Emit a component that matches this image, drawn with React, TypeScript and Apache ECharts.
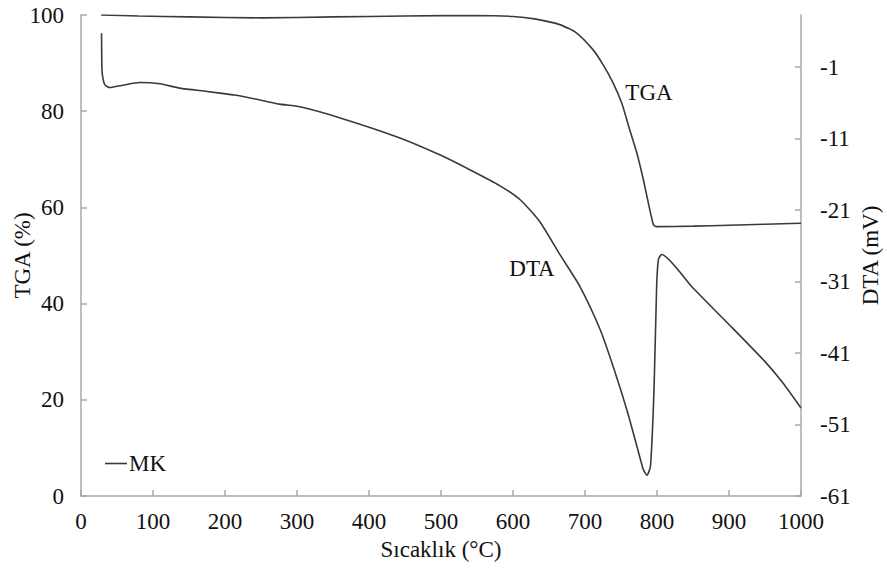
import React, { useEffect, useRef } from "react";
import * as echarts from "echarts";

// Temperature (°C) and TGA (%) readings
const tgaTemp = [28, 80, 150, 250, 350, 450, 550, 600, 630, 665, 688, 711, 725, 739, 751, 762, 772, 781, 788, 795, 799, 850, 900, 950, 1000];
const tgaValues = [100, 99.8, 99.6, 99.4, 99.6, 99.8, 99.9, 99.7, 99.2, 98.0, 96.3, 92.8, 89.7, 85.9, 81.7, 76.2, 71.3, 65.8, 60.9, 56.4, 56.0, 56.1, 56.3, 56.5, 56.7];

// Temperature (°C) and DTA (mV) readings
const dtaTemp = [28.5, 29, 30, 33, 40, 54, 82, 110, 137, 175, 211, 230, 258, 276, 304, 360, 443, 499, 540, 582, 610, 637, 665, 693, 721, 739, 758, 772, 781, 786, 791, 796, 799.5, 802, 806.5, 850, 900, 950, 975, 1000];
const dtaValues = [3.75, -1.0, -2.3, -3.45, -3.85, -3.6, -3.15, -3.33, -3.93, -4.4, -4.87, -5.2, -5.8, -6.17, -6.55, -8.1, -10.9, -13.3, -15.35, -17.6, -19.55, -22.6, -27.2, -31.7, -37.7, -42.85, -48.9, -54.0, -57.3, -58.1, -56.8, -45.6, -31.7, -27.9, -27.2, -31.9, -37.0, -42.2, -45.2, -48.7];

const xTicks = { min: 0, max: 1000, interval: 100 };
const tgaAxis = { min: 0, max: 100, interval: 20 };
const dtaAxis = { min: -61, max: 6.3, interval: 10 };

const FONT = "'Liberation Serif', 'Times New Roman', serif";
const FS = 23;
const AXIS_GRAY = "#a8a8a8";
const LINE = "#3a3a3a";

export default function App() {
  const ref = useRef<HTMLDivElement>(null);
  useEffect(() => {
    if (!ref.current) return;
    const chart = echarts.init(ref.current, undefined, { renderer: "svg" });
    const tgaData = tgaTemp.map((t, i) => [t, tgaValues[i]]);
    const dtaData = dtaTemp.map((t, i) => [t, dtaValues[i]]);
    const axisText = { color: "#111", fontFamily: FONT, fontSize: FS };
    const plain = (v: number) => String(v);
    chart.setOption({
      animation: false,
      backgroundColor: "#fff",
      textStyle: { fontFamily: FONT },
      grid: { left: 81, right: 86, top: 15, bottom: 77, containLabel: false, outerBoundsMode: "none" },
      legend: {
        data: ["MK"],
        left: 100,
        top: 447,
        icon: "rect",
        itemWidth: 22,
        itemHeight: 1.6,
        itemGap: 2,
        textStyle: { ...axisText, padding: [0, 0, 0, -3] },
      },
      xAxis: {
        type: "value",
        ...xTicks,
        name: "Sıcaklık (°C)",
        nameLocation: "middle",
        nameGap: 42,
        nameMoveOverlap: false,
        nameTextStyle: axisText,
        axisLine: { show: true, lineStyle: { color: AXIS_GRAY, width: 1.5 } },
        axisTick: { show: true, inside: true, length: 6, lineStyle: { color: AXIS_GRAY, width: 1.5 } },
        axisLabel: { ...axisText, margin: 14, formatter: plain },
        splitLine: { show: false },
      },
      yAxis: [
        {
          type: "value",
          ...tgaAxis,
          position: "left",
          name: "TGA (%)",
          nameLocation: "middle",
          nameRotate: 90,
          nameGap: 47,
          nameMoveOverlap: false,
          nameTextStyle: axisText,
          axisLine: { show: true, lineStyle: { color: AXIS_GRAY, width: 1.5 } },
          axisTick: { show: true, inside: true, length: 6, lineStyle: { color: AXIS_GRAY, width: 1.5 } },
          axisLabel: { ...axisText, margin: 17, formatter: plain },
          splitLine: { show: false },
        },
        {
          type: "value",
          ...dtaAxis,
          position: "right",
          name: "DTA (mV)",
          nameLocation: "middle",
          nameRotate: 90,
          nameGap: 58,
          nameMoveOverlap: false,
          nameTextStyle: axisText,
          axisLine: { show: true, onZero: false, lineStyle: { color: AXIS_GRAY, width: 1.5 } },
          axisTick: { show: true, inside: true, length: 6, lineStyle: { color: AXIS_GRAY, width: 1.5 } },
          axisLabel: { ...axisText, margin: 19, showMaxLabel: false, formatter: plain },
          splitLine: { show: false },
          alignTicks: false,
        },
      ],
      series: [
        {
          name: "MK",
          type: "line",
          yAxisIndex: 0,
          data: tgaData,
          showSymbol: false,
          symbol: "none",
          smooth: 0.2,
          lineStyle: { color: LINE, width: 1.6 },
          itemStyle: { color: LINE },
        },
        {
          name: "DTA",
          type: "line",
          yAxisIndex: 1,
          data: dtaData,
          showSymbol: false,
          symbol: "none",
          smooth: 0.2,
          lineStyle: { color: LINE, width: 1.6 },
          itemStyle: { color: LINE },
        },
      ],
      graphic: [
        { type: "text", x: 649, y: 92, style: { text: "TGA", fill: "#111", font: `${FS}px ${FONT}`, textAlign: "center", textVerticalAlign: "middle" } },
        { type: "text", x: 532, y: 268, style: { text: "DTA", fill: "#111", font: `${FS}px ${FONT}`, textAlign: "center", textVerticalAlign: "middle" } },
      ],
    });
    return () => chart.dispose();
  }, []);
  return (
    <div
      ref={ref}
      style={{ position: "fixed", left: 0, top: 0, width: 887, height: 573, background: "#fff" }}
    />
  );
}
